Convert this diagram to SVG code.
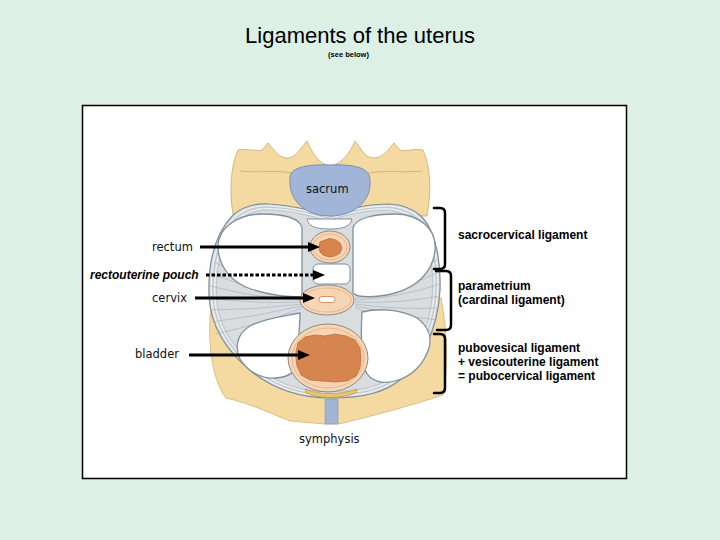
<svg xmlns="http://www.w3.org/2000/svg" width="720" height="540" viewBox="0 0 720 540">
<defs>
<style>
.lbl{font-family:"DejaVu Sans",sans-serif;font-size:11.5px;fill:#111}
.rl{font-family:"Liberation Sans",Arial,sans-serif;font-size:12px;font-weight:bold;fill:#000}
.arrow{stroke:#000;stroke-width:3;fill:none;marker-end:url(#ah)}
.br{stroke:#000;stroke-width:2.5;fill:none;stroke-linecap:round;stroke-linejoin:round}
.lobe{fill:#fff;stroke:#7F8FA0;stroke-width:1.3}
.fib{stroke:#A3ADB5;stroke-width:.6;fill:none}
.conc{fill:none;stroke:#F4F6F7;stroke-width:.9}
.conc2{fill:none;stroke:#A8B2BA;stroke-width:.6}
.peach{fill:#F6D5B4;stroke:#8E8A86;stroke-width:1}
.brown{fill:#D6854F;stroke:#C06C3C;stroke-width:.8;stroke-linejoin:round}
</style>
<marker id="ah" markerUnits="userSpaceOnUse" markerWidth="12" markerHeight="10" viewBox="0 0 12 10" refX="6" refY="5" orient="auto">
<path d="M0,0 L12,5 L0,10 Z" fill="#000"/>
</marker>
<path id="ringp" d="M233,215 C245,205 257,203 270,204 C290,205 310,210 327,215 C345,210 365,204 390,204 C405,205 415,210 422,217 C436,232 441,262 440,290 C438,330 420,365 400,380 C385,392 365,398 330,398 C300,398 275,390 252,372 C225,350 210,325 209,295 C208,265 214,235 233,215 Z"/>
</defs>

<rect x="0" y="0" width="720" height="540" fill="#DDF0E6"/>

<g id="title">
<text x="360" y="43" text-anchor="middle" font-family="Liberation Sans, Arial, sans-serif" font-size="22" fill="#000">Ligaments of the uterus</text>
<text x="348.5" y="57" text-anchor="middle" font-family="Liberation Sans, Arial, sans-serif" font-size="7.5" font-weight="bold" fill="#000">(see below)</text>
</g>

<g id="frame">
<rect x="82.5" y="105.5" width="544" height="373" fill="#fff" stroke="#000" stroke-width="1.5"/>
</g>

<g id="anatomy">
<!-- lower pelvic bone -->
<path d="M212,298 C206,340 212,380 226,398 C252,404 272,414 290,421 L325,424 L338,424 L343,423 C372,416 410,406 443,395 C449,365 447,330 441,298 Z" fill="#F4DAA0" stroke="#D2B27A" stroke-width=".8"/>
<rect x="325" y="399" width="13" height="25" fill="#A0B6D6" stroke="#8298B6" stroke-width=".6"/>
<!-- sacrum wings -->
<path d="M233,214 C229,190 231,165 238,150 C248,148 256,152 262,150 L268,143 L274,150 C280,158 290,162 298,152 L307,141 C312,152 318,164 330,166 C343,164 350,152 355,141 L363,152 C370,162 382,158 388,150 L394,143 L400,150 C406,152 414,148 423,150 C430,165 432,190 427,216 Z" fill="#F4DAA0" stroke="#C9A970" stroke-width=".8"/>
<path d="M240,171 C255,173 275,170 292,173" fill="none" stroke="#C8A86B" stroke-width=".8"/>
<path d="M368,173 C385,170 405,173 422,171" fill="none" stroke="#C8A86B" stroke-width=".8"/>
<!-- ligament ring -->
<use href="#ringp" fill="#D9DDE0" stroke="#7F8D98" stroke-width="1.2"/>
<use href="#ringp" class="conc" transform="translate(325,300) scale(.98) translate(-325,-300)"/>
<use href="#ringp" class="conc2" transform="translate(325,300) scale(.965) translate(-325,-300)"/>
<use href="#ringp" class="conc" transform="translate(325,300) scale(.95) translate(-325,-300)"/>
<use href="#ringp" class="conc2" transform="translate(325,300) scale(.935) translate(-325,-300)"/>
<!-- parametrium fibers -->
<g class="fib">
<path d="M302,296 Q260,286 214,262"/>
<path d="M302,298 Q258,292 212,274"/>
<path d="M302,300 Q256,298 210,286"/>
<path d="M302,302 Q256,304 209,298"/>
<path d="M302,304 Q256,310 210,310"/>
<path d="M302,306 Q258,316 212,322"/>
<path d="M302,308 Q262,324 215,334"/>
<path d="M355,296 Q396,286 437,260"/>
<path d="M355,298 Q398,292 439,272"/>
<path d="M355,300 Q398,298 440,284"/>
<path d="M355,302 Q398,304 440,296"/>
<path d="M355,304 Q398,310 439,308"/>
<path d="M355,306 Q396,316 437,320"/>
<path d="M355,308 Q394,322 434,332"/>
</g>
<!-- lobes -->
<path class="lobe" d="M302,228 L302,297 C285,297 266,294 251,289 C232,283 219,267 218,248 C217,228 238,214 262,214 C283,214 300,218 302,228 Z"/>
<path class="lobe" d="M353,228 L353,293 C357,298 377,298 395,293 C417,287 433,272 435,250 C437,228 418,214 395,214 C375,214 355,218 353,228 Z"/>
<path class="lobe" d="M300,313 C285,316 265,318 250,326 C238,333 234,346 240,359 C248,372 262,379 275,378 C290,377 296,372 297,360 C298,345 300,325 300,313 Z"/>
<path class="lobe" d="M362,312 C378,308 400,309 417,318 C428,326 432,337 429,348 C424,364 412,376 398,380 C384,385 370,382 365,370 C361,355 361,330 362,312 Z"/>
<!-- middle column -->
<path d="M307,219 L352,219 C350,226 345,229 330,229 C314,229 309,226 307,219 Z" fill="#fff" stroke="#7F8FA0" stroke-width="1"/>
<rect x="313" y="264" width="37" height="20" rx="5" fill="#fff" stroke="#7F8FA0" stroke-width="1"/>
<ellipse class="peach" cx="330" cy="247" rx="20" ry="16"/>
<ellipse cx="330" cy="247" rx="17" ry="13" fill="none" stroke="#E3AE84" stroke-width=".8"/>
<path class="brown" d="M319,247 L320,242 L325,240 L330,238.5 L336,240 L340,243 L342,248 L340,253 L335,256 L329,257 L323,255 L320,252 Z"/>
<ellipse class="peach" cx="327" cy="300" rx="27" ry="15"/>
<ellipse cx="327" cy="300" rx="24" ry="12" fill="none" stroke="#E3AE84" stroke-width=".8"/>
<rect x="319" y="296.5" width="16" height="6" rx="3" fill="#fff" stroke="#C87A4A" stroke-width=".8"/>
<ellipse class="peach" cx="328" cy="358" rx="40" ry="34"/>
<ellipse cx="328" cy="358" rx="36" ry="30" fill="none" stroke="#E3AE84" stroke-width=".8"/>
<path class="brown" d="M296,352 L298,343 L305,337 L315,335 L325,336 L335,334 L346,336 L355,340 L360,348 L361,358 L360,368 L356,376 L347,381 L335,382 L322,381 L310,380 L301,375 L297,366 L296,358 Z"/>
<path d="M305,389 C320,395 340,395 357,389 L356,393 C340,399 320,399 306,393 Z" fill="#E8C56C" stroke="#B8894A" stroke-width=".6"/>
<!-- sacrum body -->
<path d="M290,178 C290,168 305,164 330,165 C355,164 370,168 370,180 C372,200 355,216 330,216 C305,216 288,200 290,178 Z" fill="#A0B5D8" stroke="#7D91AE" stroke-width="1"/>
</g>

<g id="label-sacrum"><text class="lbl" x="306" y="193">sacrum</text></g>
<g id="label-rectum"><text class="lbl" x="152" y="251">rectum</text></g>
<g id="label-pouch"><text x="90" y="279" font-family="Liberation Sans, Arial, sans-serif" font-size="12" font-weight="bold" font-style="italic" fill="#000">rectouterine pouch</text></g>
<g id="label-cervix"><text class="lbl" x="152" y="302">cervix</text></g>
<g id="label-bladder"><text class="lbl" x="135" y="358">bladder</text></g>
<g id="label-symphysis"><text class="lbl" x="299" y="443">symphysis</text></g>

<g id="label-sacrocervical"><text class="rl" x="458" y="239">sacrocervical ligament</text></g>
<g id="label-parametrium">
<text class="rl" x="458" y="290">parametrium</text>
<text class="rl" x="458" y="304">(cardinal ligament)</text>
</g>
<g id="label-pubocervical">
<text class="rl" x="458" y="352">pubovesical ligament</text>
<text class="rl" x="458" y="366">+ vesicouterine ligament</text>
<text class="rl" x="458" y="380">= pubocervical ligament</text>
</g>

<g id="connectors">
<path class="arrow" d="M200,247 L314,247"/>
<path class="arrow" d="M206,275 L319,275" stroke-dasharray="3.5 2"/>
<path class="arrow" d="M195,298 L309,298"/>
<path class="arrow" d="M189,355 L304,355"/>
<path class="br" d="M434,208 L440,208 Q445,208 445,213 L445,264 Q445,269 440,269 L434,269"/>
<path class="br" d="M436,271 L446,271 Q451,271 451,276 L451,325 Q451,330 446,330 L437,330"/>
<path class="br" d="M434,334 L440,334 Q445,334 445,339 L445,388 Q445,393 440,393 L434,393"/>
</g>
</svg>
